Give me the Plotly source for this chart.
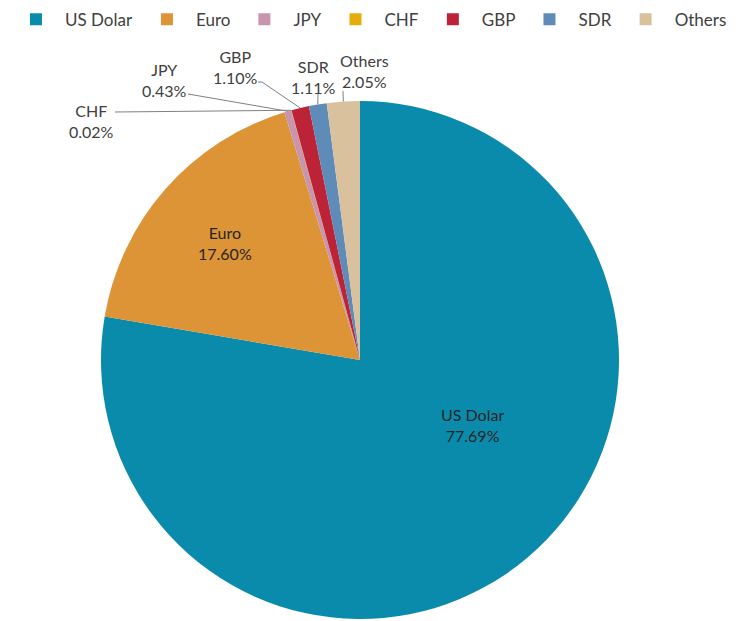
import math
import plotly.graph_objects as go

# ---- data ----
currencies = ["US Dolar", "Euro", "JPY", "CHF", "GBP", "SDR", "Others"]
shares = [77.69, 17.60, 0.43, 0.02, 1.10, 1.11, 2.05]
colors = ["#0b8bab", "#dc9436", "#c994ae", "#e6ad0a", "#bd2337", "#5e8bb8", "#d9c19e"]

# ---- layout geometry (screen pixels) ----
VIEW_W, VIEW_H = 745, 621
OFF = 8                       # default page body margin
W, H = VIEW_W - OFF, VIEW_H - OFF
CX, CY, R = 360, 360, 259     # pie centre / radius on screen

def px(x):
    return (x - OFF) / W

def py(y):
    return 1 - (y - OFF) / H

# inside label centres for the big slices
inside = {
    "US Dolar": (472, 425),
    "Euro": (225, 243),
}
# outside label placement for small slices: text centre, line start, elbow
outside = {
    "CHF":    dict(text=(91, 121), start=(115, 112), elbow=(115, 112)),
    "JPY":    dict(text=(164, 80), start=(188, 94), elbow=(188, 94)),
    "GBP":    dict(text=(235, 67), start=(258, 82), elbow=(262, 82)),
    "SDR":    dict(text=(313, 77), start=(318, 93), elbow=(318, 93)),
    "Others": dict(text=(364, 71), start=(343, 91), elbow=(343, 91)),
}

total = sum(shares)
cum = 0.0
shapes, annotations = [], []
for name, v in zip(currencies, shares):
    mid = (cum + v / 2) / total * 2 * math.pi
    cum += v
    txt = f"{name}<br>{v:.2f}%"
    if name in inside:
        tx, ty = inside[name]
        annotations.append(dict(x=px(tx), y=py(ty), xref="paper", yref="paper",
                                xanchor="center", yanchor="middle",
                                text=txt, showarrow=False, align="center",
                                font=dict(family="Lato", size=16, color="#262626")))
        continue
    o = outside[name]
    ex = CX + R * math.sin(mid)
    ey = CY - R * math.cos(mid)
    (sx, sy), (bx, by) = o["start"], o["elbow"]
    path = f"M {px(sx)} {py(sy)} L {px(bx)} {py(by)} L {px(ex)} {py(ey)}"
    shapes.append(dict(type="path", xref="paper", yref="paper", path=path,
                       line=dict(color="#808080", width=1)))
    tx, ty = o["text"]
    annotations.append(dict(x=px(tx), y=py(ty), xref="paper", yref="paper",
                            xanchor="center", yanchor="middle",
                            text=txt, showarrow=False, align="center",
                            font=dict(family="Lato", size=16, color="#404040")))

fig = go.Figure(go.Pie(
    labels=currencies,
    values=shares,
    sort=False,
    direction="clockwise",
    rotation=0,
    marker=dict(colors=colors, line=dict(width=0)),
    textinfo="none",
    hoverinfo="label+value",
    domain=dict(x=[px(CX - R), px(CX + R)], y=[py(CY + R), py(CY - R)]),
))

fig.update_layout(
    width=W, height=H,
    margin=dict(l=0, r=0, t=0, b=0, autoexpand=False),
    paper_bgcolor="white",
    plot_bgcolor="white",
    font=dict(family="Lato", size=16, color="#404040"),
    showlegend=True,
    legend=dict(orientation="h", x=-0.0014, y=1.0101, xanchor="left", yanchor="top",
                font=dict(family="Lato", size=17, color="#404040"),
                itemwidth=48, traceorder="normal"),
    shapes=shapes,
    annotations=annotations,
)

fig.write_html("out.html")
